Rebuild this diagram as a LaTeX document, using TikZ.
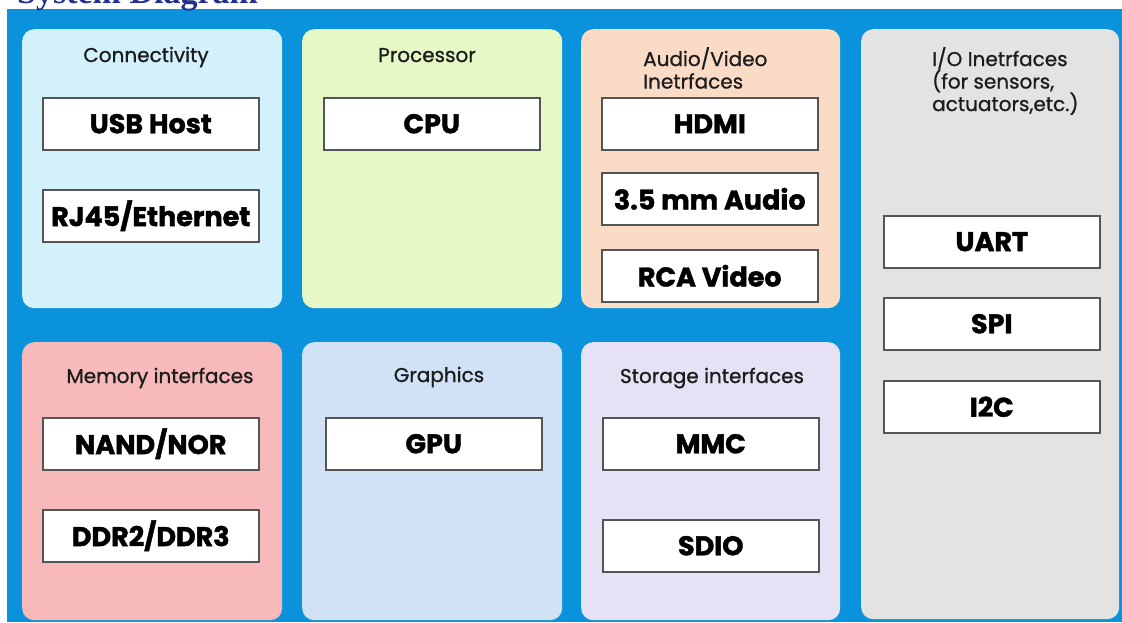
\documentclass[tikz,border=0pt]{standalone}
\usepackage{fontspec}
\setmainfont{Poppins}[BoldFeatures={FakeBold=1.6}]
\newfontfamily\midweight{Poppins}[FakeBold=0.9]
\newfontfamily\captionserif{Liberation Serif}
\usepackage{xcolor}
\usepackage{tikz}
\usetikzlibrary{positioning}
\definecolor{framecyan}{HTML}{0A93DC}
\definecolor{conncyan}{HTML}{D3F1FA}
\definecolor{procgreen}{HTML}{E5F8C6}
\definecolor{avpeach}{HTML}{FADBC6}
\definecolor{iogray}{HTML}{E3E3E3}
\definecolor{mempink}{HTML}{F7B9B9}
\definecolor{gfxblue}{HTML}{D1E2F6}
\definecolor{storlilac}{HTML}{E7E1F5}
\definecolor{edgegray}{HTML}{555555}
\definecolor{inkdark}{HTML}{1C1C1C}
\definecolor{titlenavy}{HTML}{23308F}

\begin{document}
\begin{tikzpicture}[
    x=1pt, y=-1pt,
    group_box/.style={rectangle, rounded corners=12pt, inner sep=0pt, anchor=north west},
    group_title/.style={inner sep=0pt, text=inkdark, align=left, font=\midweight\fontsize{20}{22.5}\selectfont},
    part_box/.style={rectangle, draw=edgegray, line width=1.5pt, fill=white, inner sep=0pt, minimum width=216pt, minimum height=52pt, anchor=north west, font=\fontsize{27}{30}\selectfont\bfseries}
]
\useasboundingbox (0,0) rectangle (1122,622);
\fill[framecyan] (7,9) rectangle (1122,622);
\node[anchor=base west, inner sep=0pt, text=titlenavy, font=\captionserif\fontsize{34}{40}\selectfont\bfseries] (caption) at (17,3) {System Diagram};

% Connectivity
\node[group_box, fill=conncyan, minimum width=260pt, minimum height=279pt] (conn) at (22,29) {};
\node[group_title, anchor=base] (conn_t) at (146,62) {Connectivity};
\node[part_box] (usb) at (42,97) {USB Host};
\node[part_box] (rj45) at (42,189) {RJ45/Ethernet};

% Processor
\node[group_box, fill=procgreen, minimum width=260pt, minimum height=279pt] (proc) at (302,29) {};
\node[group_title, anchor=base] (proc_t) at (427,62) {Processor};
\node[part_box] (cpu) at (323,97) {CPU};

% Audio/Video
\node[group_box, fill=avpeach, minimum width=259pt, minimum height=279pt] (av) at (581,29) {};
\node[group_title, anchor=north west] (av_t) at (643,47) {Audio/Video\\Inetrfaces};
\node[part_box] (hdmi) at (601,97) {HDMI};
\node[part_box] (jack) at (601,172) {3.5 mm Audio};
\node[part_box] (rca) at (601,249) {RCA Video};

% I/O
\node[group_box, fill=iogray, minimum width=258pt, minimum height=590pt] (io) at (861,29) {};
\node[group_title, anchor=north west] (io_t) at (932,47) {I/O Inetrfaces\\(for sensors,\\actuators,etc.)};
\node[part_box] (uart) at (883,215) {UART};
\node[part_box] (spi) at (883,297) {SPI};
\node[part_box] (i2c) at (883,380) {I2C};

% Memory
\node[group_box, fill=mempink, minimum width=260pt, minimum height=278pt] (mem) at (22,342) {};
\node[group_title, anchor=base] (mem_t) at (160,383) {Memory interfaces};
\node[part_box] (nand) at (42,417) {NAND/NOR};
\node[part_box] (ddr) at (42,509) {DDR2/DDR3};

% Graphics
\node[group_box, fill=gfxblue, minimum width=260pt, minimum height=278pt] (gfx) at (302,342) {};
\node[group_title, anchor=base] (gfx_t) at (439,382) {Graphics};
\node[part_box] (gpu) at (325,417) {GPU};

% Storage
\node[group_box, fill=storlilac, minimum width=259pt, minimum height=278pt] (stor) at (581,342) {};
\node[group_title, anchor=base] (stor_t) at (712,383) {Storage interfaces};
\node[part_box] (mmc) at (602,417) {MMC};
\node[part_box] (sdio) at (602,519) {SDIO};

\end{tikzpicture}
\end{document}
